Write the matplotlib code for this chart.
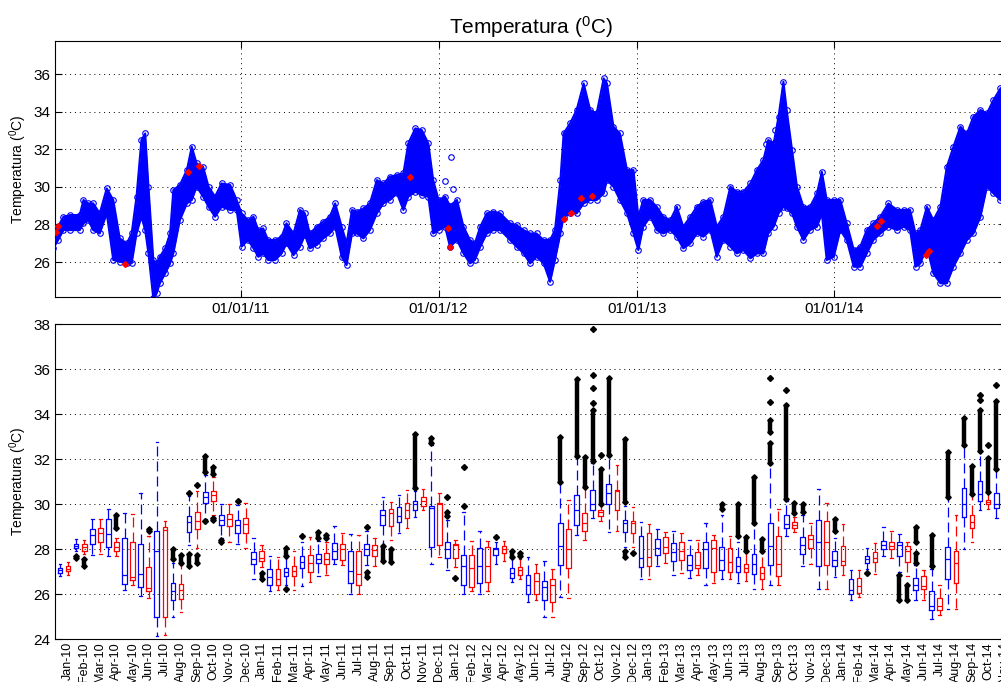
import matplotlib
matplotlib.use("Agg")
import matplotlib.pyplot as plt
import matplotlib.dates as mdates
import pandas as pd

plt.rcParams["font.family"] = ["Liberation Sans", "DejaVu Sans"]
plt.rcParams["mathtext.default"] = "regular"

# ---------------- top panel: envelope of the raw series
top_dates = [
    "2010-01-19", "2010-01-28", "2010-02-07", "2010-02-19", "2010-03-09", "2010-03-16",
    "2010-03-25", "2010-04-03", "2010-04-15", "2010-04-28", "2010-05-10", "2010-05-22",
    "2010-06-04", "2010-06-13", "2010-06-22", "2010-07-01", "2010-07-08", "2010-07-14",
    "2010-07-23", "2010-07-29", "2010-08-04", "2010-08-14", "2010-08-23", "2010-08-29",
    "2010-09-10", "2010-09-23", "2010-10-02", "2010-10-11", "2010-10-23", "2010-11-02",
    "2010-11-14", "2010-11-26", "2010-12-12", "2010-12-24", "2011-01-02", "2011-01-14",
    "2011-01-24", "2011-02-02", "2011-02-11", "2011-02-20", "2011-03-05", "2011-03-17",
    "2011-03-26", "2011-04-08", "2011-04-20", "2011-04-29", "2011-05-08", "2011-05-21",
    "2011-06-02", "2011-06-14", "2011-06-24", "2011-07-06", "2011-07-15", "2011-07-25",
    "2011-08-03", "2011-08-15", "2011-08-27", "2011-09-09", "2011-09-21", "2011-10-03",
    "2011-10-16", "2011-10-28", "2011-11-06", "2011-11-19", "2011-12-01", "2011-12-13",
    "2011-12-22", "2012-01-01", "2012-01-13", "2012-01-22", "2012-02-04", "2012-02-16",
    "2012-02-28", "2012-03-08", "2012-03-18", "2012-03-30", "2012-04-11", "2012-04-24",
    "2012-05-12", "2012-05-24", "2012-06-06", "2012-06-18", "2012-06-30", "2012-07-13",
    "2012-07-25", "2012-08-03", "2012-08-13", "2012-08-19", "2012-08-31", "2012-09-12",
    "2012-09-25", "2012-10-07", "2012-10-19", "2012-11-01", "2012-11-07", "2012-11-19",
    "2012-12-01", "2012-12-14", "2012-12-26", "2013-01-04", "2013-01-13", "2013-01-26",
    "2013-02-07", "2013-02-19", "2013-03-04", "2013-03-16", "2013-03-28", "2013-04-10",
    "2013-04-22", "2013-05-04", "2013-05-17", "2013-05-29", "2013-06-10", "2013-06-23",
    "2013-07-05", "2013-07-17", "2013-07-30", "2013-08-11", "2013-08-23", "2013-09-01",
    "2013-09-11", "2013-09-20", "2013-09-29", "2013-10-05", "2013-10-15", "2013-10-24",
    "2013-11-05", "2013-11-17", "2013-11-30", "2013-12-09", "2013-12-18", "2013-12-31",
    "2014-01-12", "2014-01-24", "2014-02-06", "2014-02-18", "2014-03-02", "2014-03-14",
    "2014-03-27", "2014-04-11", "2014-04-27", "2014-05-09", "2014-05-21", "2014-05-31",
    "2014-06-09", "2014-06-21", "2014-07-03", "2014-07-16", "2014-07-28", "2014-08-09",
    "2014-08-22", "2014-09-03", "2014-09-15", "2014-09-28", "2014-10-10", "2014-10-22",
    "2014-11-04",
]
top_hi = [
    27.35, 27.88, 28.41, 28.50, 28.50, 29.30, 29.12, 29.12, 28.59, 29.92, 29.30, 27.26,
    26.99, 27.52, 29.48, 32.49, 32.84, 30.01, 26.11, 25.93, 26.28, 26.73, 27.52, 29.83,
    30.10, 30.89, 32.13, 31.25, 31.07, 30.01, 29.48, 30.18, 30.10, 29.30, 28.59, 28.23,
    28.41, 27.70, 27.79, 27.17, 27.17, 27.35, 28.06, 27.52, 28.77, 28.59, 27.52, 27.88,
    28.15, 28.41, 29.12, 27.88, 26.99, 28.77, 28.68, 28.85, 29.12, 30.36, 30.18, 30.54,
    30.63, 30.72, 32.31, 33.11, 33.02, 32.31, 30.36, 29.30, 29.48, 29.00, 29.30, 27.88,
    27.17, 26.99, 27.88, 28.59, 28.68, 28.59, 28.06, 27.97, 27.70, 27.52, 27.52, 27.17,
    27.17, 27.70, 30.36, 32.84, 33.38, 34.09, 35.50, 34.09, 33.91, 35.77, 35.50, 33.20,
    32.84, 30.89, 30.89, 28.41, 29.30, 29.30, 28.94, 28.41, 28.23, 28.94, 27.88, 28.41,
    28.94, 29.21, 29.30, 27.88, 28.41, 30.01, 29.74, 29.74, 30.18, 30.89, 31.43, 32.49,
    32.31, 33.73, 35.59, 34.09, 31.96, 30.01, 28.94, 28.94, 29.65, 30.80, 29.30, 29.30,
    29.30, 28.06, 26.64, 26.82, 27.70, 28.06, 28.41, 29.12, 28.77, 28.77, 28.77, 27.52,
    27.70, 28.94, 28.23, 28.94, 31.07, 32.13, 33.20, 32.84, 33.73, 34.09, 33.91, 34.62,
    35.24,
]
top_lo = [
    26.73, 27.17, 27.70, 27.70, 27.70, 28.06, 28.23, 27.70, 27.52, 28.59, 26.11, 26.02,
    25.93, 25.93, 27.52, 28.41, 27.70, 26.46, 24.07, 24.33, 24.87, 25.40, 25.93, 26.46,
    28.23, 29.12, 29.30, 30.01, 29.48, 28.94, 28.41, 28.94, 28.77, 28.77, 26.82, 27.17,
    26.73, 26.28, 26.46, 26.11, 26.11, 26.46, 26.99, 26.37, 26.82, 27.44, 26.73, 26.91,
    27.26, 27.52, 27.88, 26.28, 25.84, 27.52, 27.52, 27.26, 27.70, 28.59, 29.12, 29.30,
    29.65, 28.77, 29.48, 29.74, 29.56, 29.48, 27.52, 27.70, 27.88, 26.82, 27.17, 26.46,
    25.93, 26.11, 26.82, 27.52, 27.70, 27.70, 27.17, 26.82, 26.46, 25.93, 26.28, 25.93,
    24.95, 26.11, 27.52, 28.41, 28.59, 28.59, 29.12, 29.30, 29.30, 29.65, 30.36, 30.01,
    29.30, 28.59, 27.52, 26.64, 27.88, 28.41, 27.70, 27.52, 27.70, 27.35, 26.73, 26.99,
    27.52, 27.35, 27.70, 26.28, 27.17, 26.82, 26.46, 26.64, 26.20, 26.46, 26.46, 27.52,
    27.88, 28.59, 28.94, 28.85, 28.59, 27.88, 27.17, 27.70, 27.88, 28.59, 26.11, 26.28,
    27.70, 27.17, 25.75, 25.75, 26.46, 27.17, 27.52, 27.88, 27.70, 27.88, 27.70, 25.75,
    25.93, 26.82, 25.40, 24.87, 24.87, 25.75, 26.46, 27.17, 27.52, 28.41, 30.01, 29.65,
    29.30,
]
# scattered single readings above the band
stray_dates = ["2012-01-12", "2012-01-24", "2012-01-28", "2013-08-27", "2013-09-14"]
stray_vals = [30.3, 31.6, 29.9, 32.3, 33.0]
# red (flagged) readings on the lower edge
red_dates = [
    "2010-01-24", "2010-01-27", "2010-05-31", "2010-09-25", "2010-10-15", "2011-11-10",
    "2012-01-19", "2012-01-22", "2012-08-20", "2012-09-01", "2012-09-20", "2012-10-10",
    "2014-03-20", "2014-03-28", "2014-06-20", "2014-06-25",
]
red_vals = [
    27.6, 27.9, 25.9, 30.8, 31.1, 30.5, 27.8, 26.8, 28.3, 28.6, 29.4, 29.5,
    27.9, 28.2, 26.4, 26.6,
]

# ---------------- bottom panel: monthly box statistics
months = [
    "Jan-10", "Feb-10", "Mar-10", "Apr-10", "May-10", "Jun-10", "Jul-10", "Aug-10",
    "Sep-10", "Oct-10", "Nov-10", "Dec-10", "Jan-11", "Feb-11", "Mar-11", "Apr-11",
    "May-11", "Jun-11", "Jul-11", "Aug-11", "Sep-11", "Oct-11", "Nov-11", "Dec-11",
    "Jan-12", "Feb-12", "Mar-12", "Apr-12", "May-12", "Jun-12", "Jul-12", "Aug-12",
    "Sep-12", "Oct-12", "Nov-12", "Dec-12", "Jan-13", "Feb-13", "Mar-13", "Apr-13",
    "May-13", "Jun-13", "Jul-13", "Aug-13", "Sep-13", "Oct-13", "Nov-13", "Dec-13",
    "Jan-14", "Feb-14", "Mar-14", "Apr-14", "May-14", "Jun-14", "Jul-14", "Aug-14",
    "Sep-14", "Oct-14", "Nov-14",
]
# blue boxes: q1, median, q3, lower whisker, upper whisker
blue_q1 = [26.94, 28.04, 28.22, 28.10, 26.46, 26.34, 24.99, 25.73, 28.78, 30.04, 29.07, 28.73,
           27.33, 26.43, 26.80, 27.15, 27.37, 27.58, 26.51, 27.75, 29.09, 29.19, 29.75, 28.08,
           27.63, 26.40, 26.48, 27.75, 26.73, 25.99, 25.75, 27.28, 29.09, 29.72, 30.01, 28.75,
           27.21, 27.75, 27.48, 27.06, 27.15, 27.06, 27.00, 26.88, 27.28, 28.94, 27.81, 27.24,
           27.24, 25.99, 27.40, 28.00, 27.69, 26.19, 25.30, 26.69, 29.42, 30.13, 29.84]
blue_med = [27.06, 28.15, 28.64, 28.67, 26.85, 26.91, 27.93, 26.13, 29.19, 30.34, 29.30, 29.07,
            27.58, 26.76, 26.97, 27.45, 27.58, 27.93, 27.03, 28.01, 29.52, 29.49, 30.01, 29.85,
            27.99, 27.25, 27.25, 28.00, 26.96, 26.40, 26.31, 28.15, 29.72, 30.01, 30.49, 29.15,
            27.60, 28.04, 27.88, 27.30, 28.00, 27.51, 27.25, 27.33, 28.15, 29.12, 28.18, 28.31,
            27.50, 26.21, 27.55, 28.19, 28.19, 26.40, 25.50, 27.55, 30.01, 30.43, 30.01]
blue_q3 = [27.18, 28.25, 28.90, 29.34, 28.49, 28.21, 28.79, 26.50, 29.48, 30.55, 29.52, 29.31,
           27.88, 27.10, 27.15, 27.70, 27.80, 28.28, 27.93, 28.25, 29.76, 29.87, 30.15, 29.92,
           28.32, 27.75, 28.04, 28.04, 27.15, 26.85, 26.61, 29.16, 30.42, 30.61, 30.91, 29.30,
           28.60, 28.45, 28.27, 27.75, 28.31, 28.10, 27.66, 27.81, 29.15, 29.52, 28.55, 29.30,
           27.93, 26.66, 27.70, 28.37, 28.31, 26.73, 26.16, 28.10, 30.72, 31.01, 30.49]
blue_lo = [26.79, 27.93, 27.75, 27.69, 26.19, 25.94, 24.15, 24.99, 28.20, 29.34, 28.52, 28.22,
           26.66, 26.16, 26.43, 26.36, 26.80, 27.36, 26.00, 27.30, 28.22, 28.70, 29.45, 27.36,
           27.07, 26.00, 26.00, 27.36, 26.55, 25.66, 25.01, 25.87, 28.64, 29.37, 28.75, 28.10,
           26.66, 27.25, 26.85, 26.73, 26.43, 26.66, 26.51, 26.25, 26.40, 28.60, 27.25, 26.25,
           26.78, 25.75, 27.10, 27.69, 27.00, 25.76, 24.90, 25.36, 27.99, 29.75, 29.39]
blue_hi = [27.36, 28.45, 29.34, 29.79, 29.60, 30.50, 32.75, 27.40, 30.36, 31.30, 30.00, 29.95,
           28.49, 27.69, 27.60, 28.34, 28.37, 29.01, 28.67, 28.80, 30.31, 30.42, 30.60, 32.62,
           29.30, 29.64, 28.82, 28.30, 27.55, 27.66, 27.48, 31.00, 32.10, 31.85, 32.10, 29.90,
           29.19, 28.90, 28.79, 28.40, 29.15, 29.54, 28.34, 29.10, 31.80, 30.15, 29.50, 30.69,
           28.50, 27.09, 28.04, 29.00, 28.67, 27.30, 27.10, 30.30, 32.60, 32.30, 31.50]
# red boxes (no Nov-14 box)
red_q1 = [27.03, 27.93, 28.30, 27.90, 26.64, 26.13, 25.01, 25.79, 28.90, 30.13, 29.01, 28.73,
          27.48, 26.43, 26.80, 27.00, 27.33, 27.54, 26.43, 27.70, 29.04, 29.39, 29.94, 28.20,
          27.63, 26.33, 26.55, 27.84, 26.85, 26.00, 25.64, 27.15, 28.82, 29.49, 29.72, 28.73,
          27.24, 27.85, 27.54, 27.18, 27.00, 27.00, 27.00, 26.67, 26.80, 28.94, 28.04, 27.28,
          27.28, 26.06, 27.45, 28.00, 27.45, 26.25, 25.30, 26.48, 28.94, 29.99]
red_med = [27.13, 28.10, 28.72, 28.10, 26.76, 26.28, 28.87, 26.20, 29.24, 30.39, 29.34, 29.13,
           27.63, 26.66, 27.03, 27.37, 27.57, 28.00, 26.91, 27.95, 29.60, 29.72, 30.16, 30.00,
           28.19, 27.15, 27.25, 28.03, 27.06, 26.58, 26.40, 28.00, 29.16, 29.64, 30.58, 29.15,
           27.66, 28.10, 27.93, 27.30, 28.04, 27.43, 27.15, 26.96, 27.33, 29.07, 28.45, 28.31,
           27.48, 26.36, 27.63, 28.15, 27.93, 26.36, 25.46, 27.37, 29.19, 30.09]
red_q3 = [27.24, 28.25, 28.94, 28.31, 28.34, 27.19, 29.00, 26.46, 29.64, 30.60, 29.58, 29.37,
          27.93, 27.10, 27.25, 27.75, 27.84, 28.22, 27.93, 28.18, 29.79, 30.04, 30.31, 30.06,
          28.25, 27.75, 28.10, 28.13, 27.21, 26.96, 26.66, 28.90, 29.61, 29.76, 30.64, 29.24,
          28.72, 28.55, 28.34, 27.87, 28.40, 28.04, 27.36, 27.21, 28.60, 29.21, 28.61, 29.24,
          28.15, 26.73, 27.87, 28.34, 28.15, 26.81, 25.84, 27.90, 29.54, 30.19]
red_lo = [26.84, 27.80, 27.80, 27.69, 26.43, 25.84, 24.19, 25.20, 28.07, 29.50, 28.34, 28.07,
          27.20, 26.21, 26.21, 26.55, 26.85, 27.28, 26.00, 27.25, 28.40, 28.94, 29.72, 27.66,
          27.20, 26.16, 26.16, 27.48, 26.66, 25.76, 25.01, 25.84, 28.40, 29.24, 28.79, 28.10,
          26.70, 27.40, 26.93, 26.85, 26.51, 26.66, 26.60, 26.25, 26.43, 28.75, 27.36, 26.25,
          26.84, 25.87, 26.91, 27.60, 26.80, 25.75, 25.09, 25.36, 28.34, 29.78]
red_hi = [27.43, 28.42, 29.34, 28.52, 29.57, 28.60, 29.24, 27.30, 30.58, 31.20, 30.00, 30.04,
          28.19, 27.66, 27.90, 28.55, 28.34, 28.72, 28.63, 28.50, 30.09, 30.61, 30.69, 30.50,
          28.40, 28.37, 28.37, 28.37, 27.55, 27.33, 27.10, 30.19, 30.70, 29.99, 31.76, 29.87,
          29.12, 28.78, 28.70, 28.40, 28.61, 28.60, 27.85, 27.85, 29.79, 29.45, 29.15, 30.04,
          29.12, 27.06, 28.28, 28.82, 28.34, 27.09, 26.43, 29.52, 30.40, 30.50]

# outliers: (month, series, lowest, highest); a dense run is drawn as a column
outliers = [
    ("Feb-10", "b", 27.60, 27.70), ("Feb-10", "r", 27.25, 27.55), ("Apr-10", "r", 28.95, 29.50),
    ("Jun-10", "r", 28.80, 28.90), ("Aug-10", "b", 27.55, 28.00), ("Aug-10", "r", 27.40, 27.73),
    ("Sep-10", "b", 30.49, 30.49), ("Sep-10", "b", 27.25, 27.78), ("Sep-10", "r", 30.87, 30.87),
    ("Sep-10", "r", 27.40, 27.75), ("Oct-10", "b", 31.43, 32.13), ("Oct-10", "b", 29.24, 29.24),
    ("Oct-10", "r", 31.36, 31.65), ("Oct-10", "r", 29.30, 29.40), ("Nov-10", "b", 28.30, 28.42),
    ("Dec-10", "b", 30.12, 30.12), ("Jan-11", "r", 26.66, 26.96), ("Mar-11", "b", 27.70, 28.07),
    ("Mar-11", "b", 26.25, 26.25), ("Apr-11", "b", 28.60, 28.60), ("May-11", "b", 28.52, 28.75),
    ("May-11", "r", 28.50, 28.62), ("Aug-11", "b", 28.97, 28.97), ("Aug-11", "b", 26.77, 26.99),
    ("Sep-11", "b", 27.48, 28.15), ("Sep-11", "r", 27.45, 28.00), ("Nov-11", "b", 30.72, 33.10),
    ("Dec-11", "b", 32.70, 32.92), ("Jan-12", "b", 30.31, 30.31), ("Jan-12", "b", 29.49, 29.64),
    ("Jan-12", "r", 26.73, 26.73), ("Feb-12", "b", 31.63, 31.63), ("Feb-12", "b", 29.94, 29.94),
    ("Apr-12", "b", 28.55, 28.55), ("May-12", "b", 27.66, 27.93), ("May-12", "r", 27.70, 27.85),
    ("Aug-12", "b", 31.00, 32.97), ("Sep-12", "b", 32.13, 35.54), ("Sep-12", "r", 30.76, 32.10),
    ("Oct-12", "b", 37.77, 37.77), ("Oct-12", "b", 35.72, 35.72), ("Oct-12", "b", 35.15, 35.15),
    ("Oct-12", "b", 34.50, 34.50), ("Oct-12", "b", 31.90, 34.20), ("Oct-12", "r", 32.18, 32.18),
    ("Oct-12", "r", 30.00, 31.58), ("Nov-12", "b", 32.20, 35.60), ("Dec-12", "b", 30.09, 32.88),
    ("Dec-12", "b", 27.66, 27.93), ("Dec-12", "r", 27.85, 27.85), ("Jun-13", "b", 29.80, 30.00),
    ("Jul-13", "b", 28.60, 29.99), ("Jul-13", "r", 27.90, 28.55), ("Aug-13", "b", 29.15, 31.20),
    ("Aug-13", "r", 27.92, 28.45), ("Sep-13", "b", 35.60, 35.60), ("Sep-13", "b", 34.55, 34.55),
    ("Sep-13", "b", 33.20, 33.75), ("Sep-13", "b", 31.85, 32.70), ("Oct-13", "b", 35.05, 35.05),
    ("Oct-13", "b", 30.24, 34.40), ("Oct-13", "r", 29.60, 30.04), ("Nov-13", "b", 29.64, 30.00),
    ("Jan-14", "b", 28.82, 29.34), ("Mar-14", "b", 26.96, 26.96), ("May-14", "b", 25.76, 26.85),
    ("May-14", "r", 25.76, 26.40), ("Jun-14", "b", 28.30, 28.97), ("Jun-14", "b", 27.40, 27.85),
    ("Jul-14", "b", 27.24, 28.64), ("Aug-14", "b", 30.34, 32.33), ("Sep-14", "b", 32.63, 33.82),
    ("Sep-14", "r", 30.46, 31.69), ("Oct-14", "b", 34.87, 34.87), ("Oct-14", "b", 34.64, 34.64),
    ("Oct-14", "b", 32.36, 34.20), ("Oct-14", "r", 32.63, 32.63), ("Oct-14", "r", 30.54, 32.03),
    ("Nov-14", "b", 35.31, 35.31), ("Nov-14", "b", 31.58, 34.60),
]

ylabel = "Temperatura ($^{0}$C)"
dotted = (0, (1, 4))

fig = plt.figure(figsize=(10.01, 6.82), dpi=100)

# ---------------- top
ax1 = fig.add_axes([0.0549, 0.5645, 0.95, 0.3754])
d = pd.to_datetime(top_dates)
ax1.fill_between(d, top_lo, top_hi, color="b", lw=0, zorder=2)
for env in (top_hi, top_lo):
    ax1.plot(d, env, color="b", lw=1.5, zorder=2)
    ax1.plot(d, env, "o", mfc="none", mec="b", ms=4, mew=0.8, zorder=3)
ax1.plot(pd.to_datetime(stray_dates), stray_vals, "o", mfc="none", mec="b",
         ms=4, mew=0.8, zorder=3)
ax1.plot(pd.to_datetime(red_dates), red_vals, "D", color="r", ms=3, zorder=4)

ax1.set_xlim(pd.Timestamp("2010-01-22 07:00"), pd.Timestamp("2014-11-14"))
ax1.set_ylim(24.14, 37.76)
ax1.set_yticks([26, 28, 30, 32, 34, 36])
ax1.xaxis.set_major_locator(mdates.YearLocator())
ax1.xaxis.set_major_formatter(mdates.DateFormatter("%d/%m/%y"))
ax1.grid(True, linestyle=dotted, color="k", lw=0.7)
ax1.set_axisbelow(True)
ax1.set_title(ylabel, fontsize=15, pad=5)
ax1.set_ylabel(ylabel, fontsize=10, labelpad=3)

# ---------------- bottom
ax2 = fig.add_axes([0.0549, 0.0626, 0.95, 0.4623])
box_props = dict(widths=0.58, capwidths=0.32, showfliers=False, manage_ticks=False)
for color, q1, med, q3, lo, hi, off in (
    ("b", blue_q1, blue_med, blue_q3, blue_lo, blue_hi, 1),
    ("r", red_q1, red_med, red_q3, red_lo, red_hi, 2),
):
    stats = [dict(q1=a, med=m, q3=c, whislo=w0, whishi=w1, label=lab)
             for a, m, c, w0, w1, lab in zip(q1, med, q3, lo, hi, months)]
    pos = [2 * i + off for i in range(len(stats))]
    ax2.bxp(stats, positions=pos,
            boxprops=dict(color=color, lw=0.9),
            medianprops=dict(color=color, lw=0.9),
            whiskerprops=dict(color=color, lw=0.9, linestyle=(0, (8, 4))),
            capprops=dict(color=color, lw=0.9),
            **box_props)

for mon, ser, lo, hi in outliers:
    p = 2 * months.index(mon) + (1 if ser == "b" else 2)
    if hi > lo:
        ax2.vlines(p, lo, hi, color="k", lw=3.2, zorder=3)
    ax2.plot([p, p], [lo, hi], "D", color="k", ms=2.8, zorder=3)

ax2.set_xlim(0.38, 118.2)
ax2.set_ylim(24, 38)
ax2.set_yticks(range(24, 39, 2))
ax2.set_xticks([2 * i + 2 for i in range(len(months))])
ax2.set_xticklabels(months, rotation=90, fontsize=9)
ax2.yaxis.grid(True, linestyle=dotted, color="k", lw=0.7)
ax2.set_axisbelow(True)
ax2.set_ylabel(ylabel, fontsize=10, labelpad=3)

for ax in (ax1, ax2):
    ax.tick_params(direction="in", labelsize=11, top=True, right=True)
    ax.tick_params(axis="y", length=5)
    for s in ax.spines.values():
        s.set_linewidth(0.8)
ax1.tick_params(axis="x", length=5)
ax2.tick_params(axis="x", length=0, top=False, pad=2, labelsize=9)

fig.savefig("out.png", dpi=100)
